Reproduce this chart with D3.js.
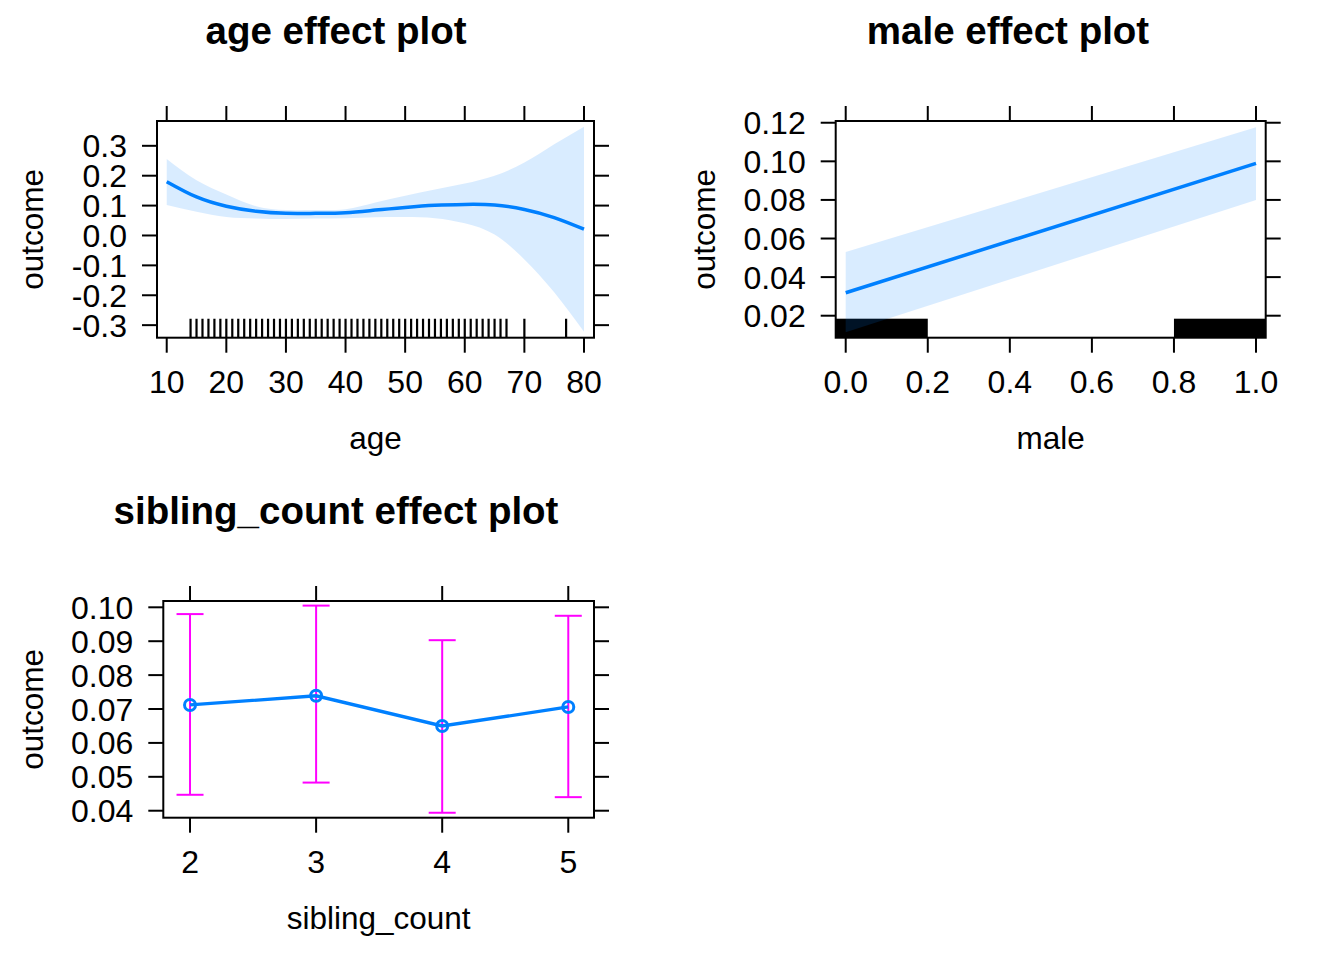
<!DOCTYPE html>
<html>
<head>
<meta charset="utf-8">
<script src="https://cdn.jsdelivr.net/npm/d3@7"></script>
<style>
  body { margin: 0; background: #fff; }
  svg text { font-family: "Liberation Sans", Arial, sans-serif; fill: #000; }
</style>
</head>
<body>
<div id="canvasplot"></div>
<script>
// ---- data ----
var ageX       = [10, 15, 20, 25, 30, 35, 40, 45, 50, 55, 60, 65, 70, 75, 80];
var ageFit     = [0.180, 0.129, 0.098, 0.081, 0.074, 0.074, 0.076, 0.085, 0.094, 0.101, 0.104, 0.102, 0.087, 0.060, 0.021];
var ageUpper   = [0.256, 0.185, 0.137, 0.098, 0.085, 0.085, 0.088, 0.110, 0.133, 0.154, 0.174, 0.200, 0.244, 0.305, 0.364];
var ageLower   = [0.102, 0.079, 0.062, 0.057, 0.055, 0.057, 0.058, 0.061, 0.062, 0.058, 0.041, 0.003, -0.080, -0.190, -0.322];
var ageRug     = [14, 15, 16, 17, 18, 19, 20, 21, 22, 23, 24, 25, 26, 27, 28, 29, 30, 31, 32, 33, 34, 35, 36, 37, 38, 39, 40,
                  41, 42, 43, 44, 45, 46, 47, 48, 49, 50, 51, 52, 53, 54, 55, 56, 57, 58, 59, 60, 61, 62, 63, 64, 65, 66, 67, 70, 77];
var ageXTicks  = [10, 20, 30, 40, 50, 60, 70, 80];
var ageYTicks  = [0.3, 0.2, 0.1, 0.0, -0.1, -0.2, -0.3];

var maleX      = [0, 1];
var maleFit    = [0.0319, 0.0989];
var maleUpper  = [0.053, 0.1176];
var maleLower  = [0.0114, 0.0799];
var maleRug    = [[-0.05, 0.2], [0.8, 1.05]];
var maleXTicks = [0, 0.2, 0.4, 0.6, 0.8, 1.0];
var maleYTicks = [0.12, 0.10, 0.08, 0.06, 0.04, 0.02];

var sibCats    = [2, 3, 4, 5];
var sibFit     = [0.0712, 0.0739, 0.0650, 0.0706];
var sibUpper   = [0.0980, 0.1005, 0.0903, 0.0975];
var sibLower   = [0.0447, 0.0483, 0.0394, 0.0440];
var sibYTicks  = [0.10, 0.09, 0.08, 0.07, 0.06, 0.05, 0.04];

var lineCol = "#0080ff", bandCol = "#0080ff", barCol = "#ff00ff";
var tickLen = 15;

var svg = d3.select('#canvasplot').append('svg')
    .attr('width', 1344)
    .attr('height', 960);

function setPanel(p){
    // p.box = pixel box, p.xdom / p.ydom = data extents of the box
    var x = d3.scaleLinear().domain(p.xdom).range([p.box.left, p.box.right]);
    var y = d3.scaleLinear().domain(p.ydom).range([p.box.bottom, p.box.top]);
    var g = svg.append("g");

    var clipId = "clip" + p.id;
    g.append("clipPath").attr("id", clipId)
        .append("rect")
        .attr("x", p.box.left).attr("y", p.box.top)
        .attr("width", p.box.right - p.box.left)
        .attr("height", p.box.bottom - p.box.top);
    var inner = g.append("g").attr("clip-path", "url(#" + clipId + ")");

    // ticks on all four sides (lattice style)
    var ticks = g.append("g").attr("stroke", "#000").attr("stroke-width", 2);
    p.xticks.forEach(function(t){
        ticks.append("line").attr("x1", x(t)).attr("x2", x(t))
            .attr("y1", p.box.bottom).attr("y2", p.box.bottom + tickLen);
        ticks.append("line").attr("x1", x(t)).attr("x2", x(t))
            .attr("y1", p.box.top).attr("y2", p.box.top - tickLen);
        g.append("text").attr("x", x(t)).attr("y", p.box.bottom + 55)
            .attr("text-anchor", "middle").style("font-size", "32px")
            .text(p.xfmt(t));
    });
    p.yticks.forEach(function(t){
        ticks.append("line").attr("y1", y(t)).attr("y2", y(t))
            .attr("x1", p.box.left).attr("x2", p.box.left - tickLen);
        ticks.append("line").attr("y1", y(t)).attr("y2", y(t))
            .attr("x1", p.box.right).attr("x2", p.box.right + tickLen);
        g.append("text").attr("x", p.box.left - 30).attr("y", y(t))
            .attr("dy", "0.36em")
            .attr("text-anchor", "end").style("font-size", "32px")
            .text(p.yfmt(t));
    });

    // title and axis labels
    g.append("text").attr("x", p.cx).attr("y", p.box.top - 77)
        .attr("text-anchor", "middle").style("font-size", "38.5px").style("font-weight", "bold")
        .text(p.title);
    g.append("text").attr("x", (p.box.left + p.box.right) / 2).attr("y", p.box.bottom + 111)
        .attr("text-anchor", "middle").style("font-size", "31.5px")
        .text(p.xlab);
    g.append("text")
        .attr("transform", "translate(" + (p.cx - 293) + "," + ((p.box.top + p.box.bottom) / 2) + ") rotate(-90)")
        .attr("text-anchor", "middle").style("font-size", "31.5px")
        .text("outcome");

    return {g: g, inner: inner, x: x, y: y, box: p.box};
}

function drawBox(P){
    P.g.append("rect")
        .attr("x", P.box.left).attr("y", P.box.top)
        .attr("width", P.box.right - P.box.left)
        .attr("height", P.box.bottom - P.box.top)
        .attr("fill", "none").attr("stroke", "#000").attr("stroke-width", 2);
}

// ---- age panel ----
var A = setPanel({id: "age", box: {left: 157, right: 594, top: 121, bottom: 337.7},
    xdom: [8.37, 81.68], ydom: [-0.342, 0.383], cx: 336,
    xticks: ageXTicks, yticks: ageYTicks,
    xfmt: d3.format("d"), yfmt: function(v){ return d3.format(".1f")(v).replace("−", "-"); },
    title: "age effect plot", xlab: "age"});

var ageBand = d3.area()
    .x(function(d, i){ return A.x(ageX[i]); })
    .y0(function(d, i){ return A.y(ageLower[i]); })
    .y1(function(d, i){ return A.y(ageUpper[i]); })
    .curve(d3.curveNatural);
A.inner.append("path").datum(ageX).attr("d", ageBand)
    .attr("fill", bandCol).attr("fill-opacity", 0.15);

A.inner.selectAll("line.rug").data(ageRug).enter().append("line")
    .attr("x1", function(d){ return A.x(d); }).attr("x2", function(d){ return A.x(d); })
    .attr("y1", A.box.bottom).attr("y2", A.box.bottom - 19)
    .attr("stroke", "#000").attr("stroke-width", 2.2);

var ageLine = d3.line()
    .x(function(d, i){ return A.x(ageX[i]); })
    .y(function(d){ return A.y(d); })
    .curve(d3.curveNatural);
A.inner.append("path").datum(ageFit).attr("d", ageLine)
    .attr("fill", "none").attr("stroke", lineCol).attr("stroke-width", 3.5);
drawBox(A);

// ---- male panel ----
var M = setPanel({id: "male", box: {left: 835.7, right: 1265.7, top: 121, bottom: 337.7},
    xdom: [-0.0244, 1.0236], ydom: [0.0086, 0.1209], cx: 1008,
    xticks: maleXTicks, yticks: maleYTicks,
    xfmt: d3.format(".1f"), yfmt: d3.format(".2f"),
    title: "male effect plot", xlab: "male"});

M.inner.selectAll("rect.rug").data(maleRug).enter().append("rect")
    .attr("x", function(d){ return M.x(d[0]); })
    .attr("width", function(d){ return M.x(d[1]) - M.x(d[0]); })
    .attr("y", M.box.bottom - 19).attr("height", 19)
    .attr("fill", "#000");

var maleBand = d3.area()
    .x(function(d, i){ return M.x(maleX[i]); })
    .y0(function(d, i){ return M.y(maleLower[i]); })
    .y1(function(d, i){ return M.y(maleUpper[i]); });
M.inner.append("path").datum(maleX).attr("d", maleBand)
    .attr("fill", bandCol).attr("fill-opacity", 0.15);

var maleLine = d3.line()
    .x(function(d, i){ return M.x(maleX[i]); })
    .y(function(d){ return M.y(d); });
M.inner.append("path").datum(maleFit).attr("d", maleLine)
    .attr("fill", "none").attr("stroke", lineCol).attr("stroke-width", 3.5);
drawBox(M);

// ---- sibling_count panel ----
var S = setPanel({id: "sib", box: {left: 163.3, right: 594, top: 601, bottom: 817.7},
    xdom: [1.788, 5.204], ydom: [0.03794, 0.10186], cx: 336,
    xticks: sibCats, yticks: sibYTicks,
    xfmt: d3.format("d"), yfmt: d3.format(".2f"),
    title: "sibling_count effect plot", xlab: "sibling_count"});

var bars = S.g.append("g").attr("stroke", barCol).attr("stroke-width", 2);
sibCats.forEach(function(c, i){
    bars.append("line").attr("x1", S.x(c)).attr("x2", S.x(c))
        .attr("y1", S.y(sibLower[i])).attr("y2", S.y(sibUpper[i]));
    bars.append("line").attr("x1", S.x(c) - 13.5).attr("x2", S.x(c) + 13.5)
        .attr("y1", S.y(sibLower[i])).attr("y2", S.y(sibLower[i]));
    bars.append("line").attr("x1", S.x(c) - 13.5).attr("x2", S.x(c) + 13.5)
        .attr("y1", S.y(sibUpper[i])).attr("y2", S.y(sibUpper[i]));
});

var sibLine = d3.line()
    .x(function(d, i){ return S.x(sibCats[i]); })
    .y(function(d){ return S.y(d); });
S.g.append("path").datum(sibFit).attr("d", sibLine)
    .attr("fill", "none").attr("stroke", lineCol).attr("stroke-width", 3.3);
S.g.selectAll("circle.pt").data(sibFit).enter().append("circle")
    .attr("cx", function(d, i){ return S.x(sibCats[i]); })
    .attr("cy", function(d){ return S.y(d); })
    .attr("r", 5.5)
    .attr("fill", "none").attr("stroke", lineCol).attr("stroke-width", 3);
drawBox(S);
</script>
</body>
</html>
